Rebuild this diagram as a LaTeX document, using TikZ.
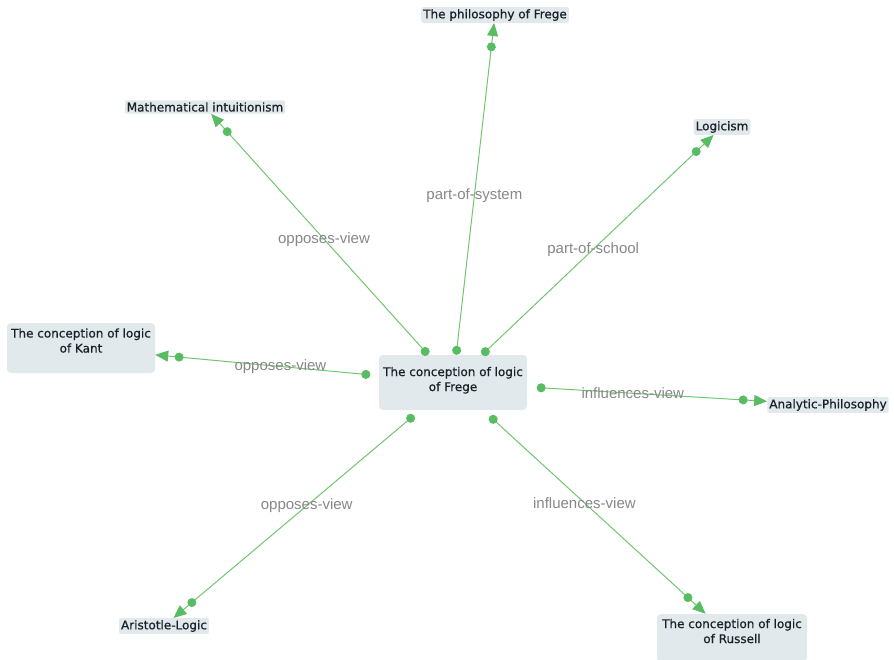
\documentclass[tikz,border=0pt]{standalone}
\usepackage{fontspec}
\setmainfont{DejaVu Sans}
\newfontface\conceptfont[FakeBold=0.6]{DejaVu Sans}
\newfontfamily\relfont{Liberation Sans}
\usetikzlibrary{arrows.meta,decorations.markings}
\definecolor{edgegreen}{RGB}{112,198,112}
\definecolor{dotgreen}{RGB}{88,188,98}
\definecolor{boxfill}{RGB}{225,233,236}
\definecolor{labelgrey}{RGB}{135,135,135}
\definecolor{nodetext}{RGB}{26,32,40}
\begin{document}
\begin{tikzpicture}[x=1pt,y=-1pt,
  concept/.style={fill=boxfill, rounded corners=4pt, text=nodetext,
    font=\conceptfont\fontsize{12}{15}\selectfont, align=center, inner sep=0pt},
  tag/.style={fill=boxfill, rounded corners=2pt, text=nodetext,
    font=\conceptfont\fontsize{12}{14}\selectfont, inner xsep=2pt, inner ysep=2pt},
  rel/.style={draw=edgegreen, line width=1pt,
    {Circle[length=9pt,color=dotgreen]}-{Triangle[length=13pt,width=11pt,color=dotgreen]},
    postaction={decorate},
    decoration={markings, mark=at position -24pt with {\fill[dotgreen] (0,0) circle (4.5pt);}}},
  rlab/.style={font=\relfont\fontsize{15}{17}\selectfont, text=labelgrey, inner sep=0pt}
]
\useasboundingbox (0,0) rectangle (894,660);

% concepts
\node[concept, minimum width=148pt, minimum height=55pt, text depth=7pt] (frege) at (453,382.5)
  {The conception of logic\\of Frege};
\node[concept, minimum width=148pt, minimum height=50pt, text depth=15pt] (kant) at (81,348)
  {The conception of logic\\of Kant};
\node[concept, minimum width=150pt, minimum height=48pt, text depth=14pt] (russell) at (732,638)
  {The conception of logic\\of Russell};
\node[tag] (philo) at (495,15) {The philosophy of Frege};
\node[tag] (intu) at (205,107) {Mathematical intuitionism};
\node[tag] (logicism) at (722,127) {Logicism};
\node[tag] (analytic) at (828,405) {Analytic-Philosophy};
\node[tag] (aristotle) at (164,626) {Aristotle-Logic};

% relations
\draw[rel] (frege) -- node[rlab, pos=.48] (r1) {opposes-view} (intu);
\draw[rel] (frege) -- node[rlab, pos=.48] (r2) {part-of-system} (philo);
\draw[rel] (frege) -- node[rlab, pos=.48] (r3) {part-of-school} (logicism);
\draw[rel, shorten <=8.5pt] (frege) -- node[rlab, pos=.44] (r4) {opposes-view} (kant);
\draw[rel, shorten <=9.5pt] (frege) -- node[rlab, pos=.44] (r5) {influences-view} (analytic);
\draw[rel, shorten <=8pt] (frege) -- node[rlab, pos=.46] (r6) {opposes-view} (aristotle);
\draw[rel, shorten <=9pt] (frege) -- node[rlab, pos=.455] (r7) {influences-view} (russell);
\end{tikzpicture}
\end{document}
